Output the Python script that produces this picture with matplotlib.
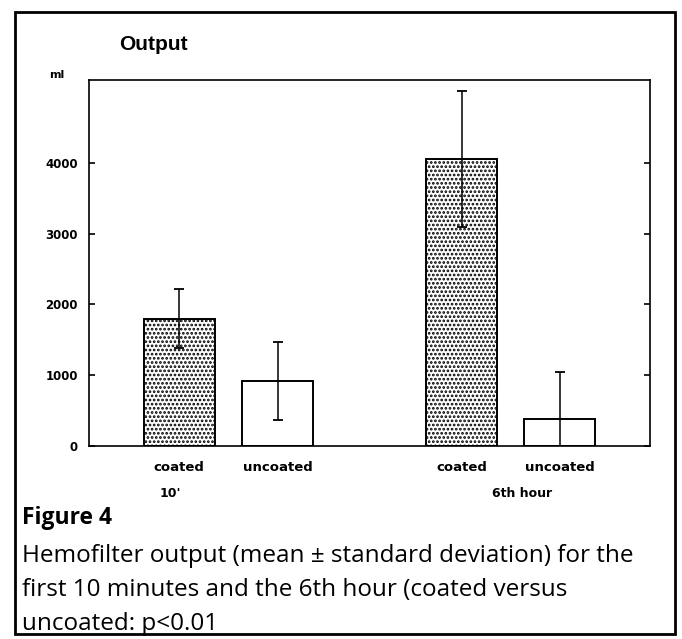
import matplotlib.pyplot as plt
from matplotlib.patches import Rectangle
from matplotlib.transforms import blended_transform_factory

# data (ml, mean and standard deviation)
categories = ['coated', 'uncoated', 'coated', 'uncoated']
groups = ["10'", '6th hour']
means = [1800, 920, 4060, 380]
sds = [420, 555, 960, 660]
coated_mask = [True, False, True, False]
yticks = [0, 1000, 2000, 3000, 4000]

plt.rcParams['hatch.linewidth'] = 1.3

fig = plt.figure(figsize=(6.82, 6.39), dpi=100)
ax = fig.add_axes([89 / 682, 193 / 639, 561 / 682, 366 / 639])

# bar positions (layout only)
x = [1.27, 2.66, 5.25, 6.63]

for xi, m, s, c in zip(x, means, sds, coated_mask):
    ax.bar(xi, m, width=1.0, facecolor='white', edgecolor='black',
           linewidth=1.4, hatch='....' if c else None, zorder=2)
    ax.errorbar(xi, m, yerr=s, fmt='none', ecolor='black', elinewidth=1.1,
                capsize=3.5, capthick=1.3, zorder=3)

ax.set_xlim(0, 7.9)
ax.set_ylim(0, 5170)
ax.set_yticks(yticks)
ax.set_yticklabels([str(v) for v in yticks], fontsize=8.5, fontweight='bold',
                   family='DejaVu Sans')
ax.tick_params(axis='y', direction='in', length=4, width=1.2, right=True, pad=8)
ax.set_xticks(x)
ax.set_xticklabels(categories, fontsize=9.5, fontweight='bold', family='DejaVu Sans')
ax.tick_params(axis='x', length=0, pad=11)
for sp in ax.spines.values():
    sp.set_linewidth(1.2)

trans = blended_transform_factory(ax.transData, ax.transAxes)
ax.text(1.14, -0.131, groups[0], transform=trans, ha='center', va='center',
        fontsize=9, fontweight='bold', family='DejaVu Sans')
ax.text(6.1, -0.131, groups[1], transform=trans, ha='center', va='center',
        fontsize=9, fontweight='bold', family='DejaVu Sans')

fig.text(57 / 682, 1 - 75 / 639, 'ml', ha='center', va='center', fontsize=8,
         fontweight='bold', family='DejaVu Sans')
fig.text(153 / 682, 1 - 45 / 639, 'Output', ha='center', va='center',
         fontsize=15, fontweight='bold', family='Liberation Sans')

# caption
fig.text(22 / 682, 1 - 518 / 639, 'Figure 4', ha='left', va='center',
         fontsize=16.5, fontweight='bold', family='Open Sans')
caption = ['Hemofilter output (mean \u00b1 standard deviation) for the',
           'first 10 minutes and the 6th hour (coated versus',
           'uncoated: p<0.01']
for i, line in enumerate(caption):
    fig.text(22 / 682, 1 - (556 + 34 * i) / 639, line, ha='left', va='center',
             fontsize=17.5, family='Open Sans')

# outer frame
fig.patches.append(Rectangle((15 / 682, 5 / 639), 660 / 682, 622 / 639,
                             transform=fig.transFigure, fill=False,
                             edgecolor='black', linewidth=2))

plt.savefig('out.png', dpi=100)
